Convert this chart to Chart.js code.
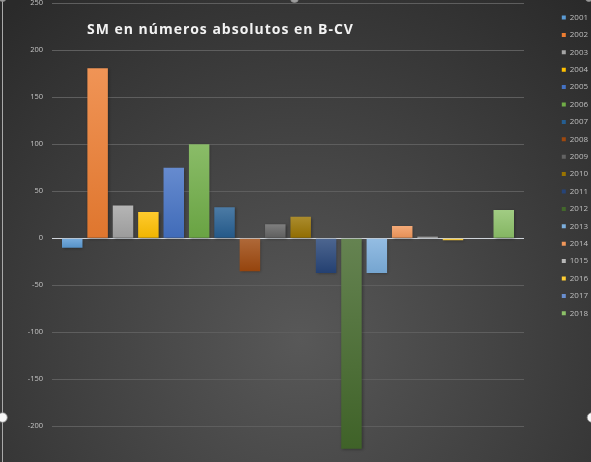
<!DOCTYPE html>
<html>
<head>
<meta charset="utf-8">
<script src="https://cdn.jsdelivr.net/npm/chart.js@4.4.1/dist/chart.umd.min.js"></script>
<style>
html,body{margin:0;padding:0;background:#3a3a3a;overflow:hidden}
#wrap{width:591px;height:462px;position:relative}
canvas{display:block}
</style>
</head>
<body>
<div id="wrap"><canvas id="c" width="591" height="462"></canvas></div>
<script>
const years = ['2001','2002','2003','2004','2005','2006','2007','2008','2009','2010','2011','2012','2013','2014','1015','2016','2017','2018'];
const values = [-10, 181, 35, 28, 75, 100, 33, -35, 15, 23, -37, -224, -37, 13, 1.5, -2, 0, 30];
const colors = ['#5B9BD5','#ED7D31','#A5A5A5','#FFC000','#4472C4','#70AD47','#255E91','#9E480E','#636363','#997300','#264478','#43682B','#7CAFDD','#F1975A','#B7B7B7','#FFCD33','#698ED0','#8CC168'];
const yTicks = [250, 200, 150, 100, 50, 0, -50, -100, -150, -200];
const chartTitle = 'SM en números absolutos en B-CV';

function mix(hex, target, t) {
  const a = parseInt(hex.slice(1), 16);
  const r = (a >> 16) & 255, g = (a >> 8) & 255, b = a & 255;
  return 'rgb(' + Math.round(r + (target[0] - r) * t) + ',' + Math.round(g + (target[1] - g) * t) + ',' + Math.round(b + (target[2] - b) * t) + ')';
}

function barFill(i) {
  return function (ctx) {
    const ch = ctx.chart;
    if (!ch.chartArea || !ch.scales || !ch.scales.y) return colors[i];
    const ys = ch.scales.y;
    const p0 = ys.getPixelForValue(0), p1 = ys.getPixelForValue(values[i]);
    if (!isFinite(p0) || !isFinite(p1)) return colors[i];
    const top = Math.min(p0, p1), bot = Math.max(p0, p1);
    if (bot - top < 1) return colors[i];
    const g = ch.ctx.createLinearGradient(0, top, 0, bot);
    g.addColorStop(0, mix(colors[i], [255, 255, 255], 0.18));
    g.addColorStop(1, mix(colors[i], [0, 0, 0], 0.06));
    return g;
  };
}

const decor = {
  id: 'decor',
  beforeDraw(chart) {
    const c = chart.ctx;
    c.save();
    const g = c.createRadialGradient(300, 340, 0, 300, 340, 440);
    g.addColorStop(0, '#585858');
    g.addColorStop(1, '#2a2a2a');
    c.fillStyle = g;
    c.fillRect(0, 0, chart.width, chart.height);
    c.restore();
  },
  beforeDatasetsDraw(chart) {
    const c = chart.ctx;
    c.save();
    c.shadowColor = 'rgba(0,0,0,0.35)';
    c.shadowBlur = 3;
    c.shadowOffsetX = 1;
    c.shadowOffsetY = 1;
  },
  afterDatasetsDraw(chart) {
    chart.ctx.restore();
  },
  afterDraw(chart) {
    const c = chart.ctx;
    c.save();
    c.font = 'bold 14px "Open Sans"';
    c.fillStyle = '#f2f2f2';
    c.textBaseline = 'alphabetic';
    c.textAlign = 'left';
    c.letterSpacing = '0px';
    const w0 = c.measureText(chartTitle).width;
    const sp = Math.max(0, (267 - w0) / chartTitle.length);
    c.letterSpacing = sp.toFixed(2) + 'px';
    c.fillText(chartTitle, 87, 34.3);
    c.letterSpacing = '0px';
    c.strokeStyle = '#a9a9a9';
    c.lineWidth = 1;
    c.beginPath();
    c.moveTo(2.5, 0);
    c.lineTo(2.5, chart.height);
    c.stroke();
    const handle = (x, y, r, fill) => {
      c.beginPath();
      c.arc(x, y, r, 0, Math.PI * 2);
      c.fillStyle = fill;
      c.fill();
      c.strokeStyle = '#8a8a8a';
      c.lineWidth = 0.8;
      c.stroke();
    };
    handle(2.5, 417.5, 4.8, '#f7f7f7');
    handle(592, 417.5, 4.8, '#f7f7f7');
    handle(294.5, -1.5, 4, '#9d9d9d');
    handle(2.5, -2, 3.5, '#9d9d9d');
    handle(589, -2, 3.5, '#9d9d9d');
    c.restore();
  }
};

new Chart(document.getElementById('c'), {
  type: 'bar',
  data: {
    labels: [''],
    datasets: years.map((y, i) => ({
      label: y,
      data: [values[i]],
      backgroundColor: barFill(i),
      borderWidth: 0,
      categoryPercentage: 0.968,
      barPercentage: 0.807
    }))
  },
  options: {
    responsive: false,
    animation: false,
    layout: { padding: { left: 0, right: 0, top: 0, bottom: 0 } },
    plugins: {
      tooltip: { enabled: false },
      legend: {
        position: 'right',
        align: 'start',
        maxWidth: 38.6,
        title: { display: true, text: '', font: { size: 1 }, padding: { top: 2.9, bottom: 0 } },
        labels: {
          boxWidth: 4,
          boxHeight: 4,
          padding: 9.4,
          color: '#bfbfbf',
          font: { family: 'Open Sans', size: 8 },
          generateLabels: () => years.map((y, i) => ({
            text: y,
            fillStyle: colors[i],
            strokeStyle: colors[i],
            lineWidth: 0,
            hidden: false,
            datasetIndex: i,
            fontColor: '#bfbfbf'
          }))
        }
      }
    },
    scales: {
      x: { display: false },
      y: {
        min: -234.5,
        max: 250,
        ticks: { stepSize: 50, padding: 0, color: '#c4c4c4', font: { family: 'Open Sans', size: 7.5, lineHeight: 0.88 } },
        afterBuildTicks: s => { s.ticks = yTicks.map(v => ({ value: v })); },
        afterFit: s => { s.width = 52; },
        grid: {
          color: c => (c.tick && c.tick.value === 0) ? '#cfd4da' : '#5e5e5e',
          lineWidth: 1,
          drawTicks: true,
          tickLength: 9,
          tickColor: 'rgba(0,0,0,0)'
        },
        border: { display: false }
      },
      y2: {
        position: 'right',
        display: true,
        ticks: { display: false },
        grid: { display: false },
        border: { display: false },
        afterFit: s => { s.width = 28.4; }
      }
    }
  },
  plugins: [decor]
});
</script>
</body>
</html>
